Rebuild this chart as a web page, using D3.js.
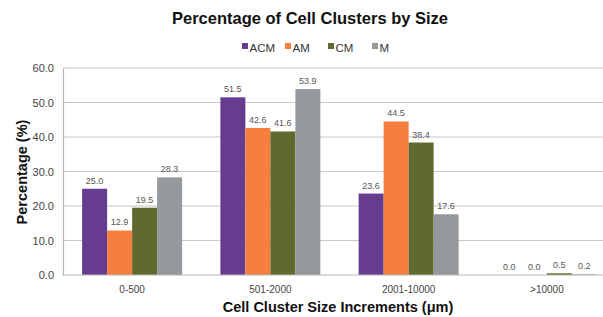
<!DOCTYPE html>
<html><head><meta charset="utf-8">
<script src="https://cdn.jsdelivr.net/npm/d3@7"></script>
<style>body{margin:0;background:#fff}svg{display:block;font-family:"Liberation Sans",Arial,sans-serif}</style>
</head><body>
<svg id="c" width="603" height="317"></svg>
<script>
const categories = ["0-500", "501-2000", "2001-10000", ">10000"];
const seriesNames = ["ACM", "AM", "CM", "M"];
const ACM = [25.0, 51.5, 23.6, 0.0];
const AM = [12.9, 42.6, 44.5, 0.0];
const CM = [19.5, 41.6, 38.4, 0.5];
const M = [28.3, 53.9, 17.6, 0.2];
const yTicks = [0, 10, 20, 30, 40, 50, 60];
const colors = ["#653c8f", "#f67e3e", "#5f6a2f", "#96999c"];
const seriesData = [ACM, AM, CM, M];

(function () {
const svg = d3.select("#c");
const mLeft = 63, mRight = 616, mTop = 68, mBottom = 275;
const x = d3.scaleBand().domain(categories).range([mLeft, mRight]).paddingInner(0).paddingOuter(0);
const barW = 25;
const xs = d3.scaleBand().domain(seriesNames).range([0, barW * 4]);
const y = d3.scaleLinear().domain([0, 60]).range([mBottom, mTop]);

// gridlines
svg.append("g").selectAll("line").data(yTicks.filter(d => d > 0)).join("line")
  .attr("x1", mLeft).attr("x2", 603).attr("y1", d => y(d)).attr("y2", d => y(d))
  .attr("stroke", "#c8c8c8").attr("stroke-width", 1.2);

// y axis
const yAxis = d3.axisLeft(y).tickValues(yTicks).tickFormat(d3.format(".1f")).tickSize(0).tickPadding(9);
const ga = svg.append("g").attr("transform", `translate(${mLeft},0)`).call(yAxis);
ga.select(".domain").attr("stroke", "#b5b5b5").attr("stroke-width", 1.2);
ga.selectAll("text").attr("font-size", 11).attr("fill", "#444").attr("font-family", "Liberation Sans, Arial");

// bars
const groups = svg.append("g").selectAll("g").data(categories).join("g")
  .attr("transform", d => `translate(${x(d) + (x.bandwidth() - barW * 4) / 2},0)`);
groups.each(function(cat, ci) {
  const g = d3.select(this);
  seriesNames.forEach((s, si) => {
    const v = seriesData[si][ci];
    g.append("rect").attr("x", xs(s)).attr("width", barW)
      .attr("y", y(v)).attr("height", y(0) - y(v)).attr("fill", colors[si]);
    g.append("text").attr("x", xs(s) + barW / 2).attr("y", y(v) - 5)
      .attr("text-anchor", "middle").attr("font-size", 9).attr("fill", "#555")
      .text(d3.format(".1f")(v));
  });
});

// bottom axis line
svg.append("line").attr("x1", mLeft).attr("x2", 603).attr("y1", mBottom).attr("y2", mBottom)
  .attr("stroke", "#b5b5b5").attr("stroke-width", 1.2);

// x axis labels
const xAxis = d3.axisBottom(x).tickSize(0).tickPadding(11);
const gx = svg.append("g").attr("transform", `translate(0,${mBottom})`).call(xAxis);
gx.select(".domain").remove();
gx.selectAll("text").attr("font-size", 10).attr("fill", "#444").attr("font-family", "Liberation Sans, Arial");

// titles
svg.append("text").attr("x", 310).attr("y", 24).attr("text-anchor", "middle")
  .attr("font-size", 16.5).attr("font-weight", "bold").attr("fill", "#111").text("Percentage of Cell Clusters by Size");
svg.append("text").attr("x", 338).attr("y", 312).attr("text-anchor", "middle")
  .attr("font-size", 14.5).attr("font-weight", "bold").attr("fill", "#111").text("Cell Cluster Size Increments (μm)");
svg.append("text").attr("transform", "translate(27,172) rotate(-90)").attr("text-anchor", "middle")
  .attr("font-size", 14.5).attr("font-weight", "bold").attr("fill", "#111").text("Percentage (%)");

// legend
const legX = [242, 285, 328, 372];
const leg = svg.append("g");
seriesNames.forEach((s, i) => {
  leg.append("rect").attr("x", legX[i]).attr("y", 43).attr("width", 6).attr("height", 6).attr("fill", colors[i]);
  leg.append("text").attr("x", legX[i] + 7.5).attr("y", 52).attr("font-size", 11.5).attr("fill", "#333").text(s);
});
})();
</script>
</body></html>
